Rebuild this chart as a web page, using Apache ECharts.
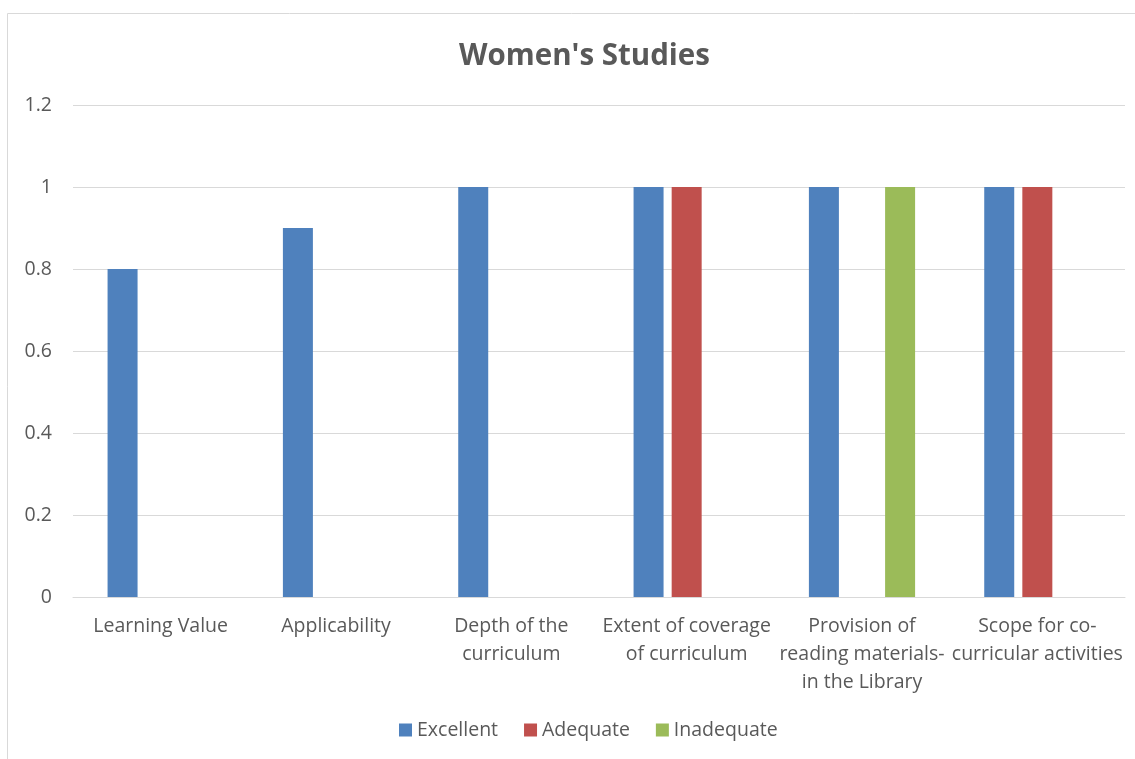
<!DOCTYPE html>
<html>
<head>
<meta charset="utf-8">
<script src="https://cdn.jsdelivr.net/npm/echarts@6/dist/echarts.min.js"></script>
<style>
  html, body { margin: 0; padding: 0; background: #fff; }
  #chart { width: 1135px; height: 759px; }
</style>
</head>
<body>
<div id="chart"></div>
<script>
var categories = ['Learning Value', 'Applicability', 'Depth of the curriculum',
    'Extent of coverage of curriculum', 'Provision of reading materials- in the Library',
    'Scope for co-curricular activities'];
// how Excel wrapped the category labels
var tickLabels = ['Learning Value', 'Applicability', 'Depth of the\ncurriculum',
    'Extent of coverage\nof curriculum', 'Provision of\nreading materials-\nin the Library',
    'Scope for co-\ncurricular activities'];
var excellent = [0.8, 0.9, 1, 1, 1, 1];
var adequate = [null, null, null, 1, null, 1];
var inadequate = [null, null, null, null, 1, null];
var yTicks = [0, 0.2, 0.4, 0.6, 0.8, 1, 1.2];

var dom = document.getElementById('chart');
var myChart = echarts.init(dom);
var txt = '#595959';
var font = '"Open Sans", "Liberation Sans", sans-serif';

function bar(name, data, color) {
    return {
        name: name,
        type: 'bar',
        data: data,
        barWidth: 30,
        barGap: '27%',
        itemStyle: { color: color }
    };
}

var option = {
    textStyle: { fontFamily: font },
    title: {
        text: "Women's Studies",
        left: 454,
        top: 37,
        textStyle: { fontSize: 29.5, fontWeight: 'bold', color: txt, fontFamily: font }
    },
    legend: {
        bottom: 14,
        left: 394,
        itemWidth: 13,
        itemHeight: 13,
        itemGap: 26,
        icon: 'rect',
        textStyle: { fontSize: 19.5, color: txt, fontFamily: font },
        data: ['Excellent', 'Adequate', 'Inadequate']
    },
    grid: { left: 73, right: 10, top: 105, bottom: 162, containLabel: false },
    xAxis: {
        type: 'category',
        data: categories,
        axisTick: { show: false },
        axisLine: { lineStyle: { color: '#d9d9d9', width: 1 } },
        axisLabel: {
            interval: 0,
            margin: 15,
            fontSize: 19.5,
            lineHeight: 28,
            color: txt,
            formatter: function (v, i) { return tickLabels[i]; }
        }
    },
    yAxis: {
        type: 'value',
        min: 0,
        max: 1.2,
        interval: 0.2,
        axisLine: { show: false },
        axisTick: { show: false },
        splitLine: { lineStyle: { color: '#d9d9d9', width: 1 } },
        axisLabel: {
            margin: 21,
            fontSize: 19.5,
            color: txt,
            formatter: function (v) {
                var t = yTicks.find(function (k) { return Math.abs(k - v) < 1e-6; });
                return t === undefined ? '' : String(t);
            }
        }
    },
    graphic: [{
        type: 'rect',
        shape: { x: 7.5, y: 13.5, width: 1200, height: 800 },
        style: { fill: 'none', stroke: '#d9d9d9', lineWidth: 1 },
        silent: true
    }],
    series: [
        bar('Excellent', excellent, '#4f81bd'),
        bar('Adequate', adequate, '#c0504d'),
        bar('Inadequate', inadequate, '#9bbb59')
    ]
};

myChart.setOption(option);
</script>
</body>
</html>
